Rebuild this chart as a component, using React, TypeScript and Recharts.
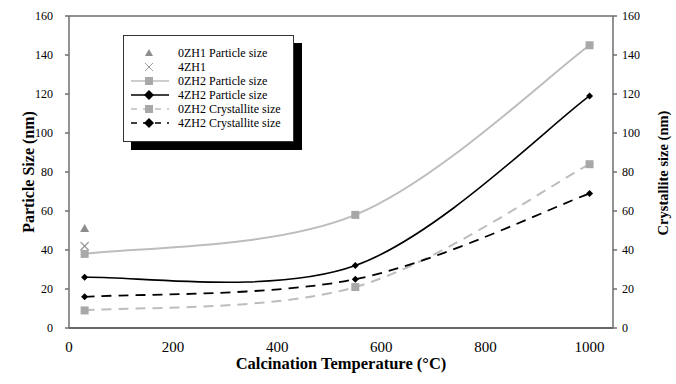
import React from 'react';
import { ComposedChart, Line, Scatter, XAxis, YAxis, ReferenceLine } from 'recharts';

// calcination temperatures (°C)
const temps = [30, 550, 1000];
const zh2Particle0 = [38, 58, 145];
const zh2Particle4 = [26, 32, 119];
const zh2Cryst0 = [9, 21, 84];
const zh2Cryst4 = [16, 25, 69];

const zh1Temps = [30];
const zh1Particle0 = [51];
const zh1Particle4 = [42];

const xTicks = [0, 200, 400, 600, 800, 1000];
const yTicks = [0, 20, 40, 60, 80, 100, 120, 140, 160];

const data = temps.map((t, i) => ({
  t,
  p0: zh2Particle0[i],
  p4: zh2Particle4[i],
  c0: zh2Cryst0[i],
  c4: zh2Cryst4[i],
}));
const zh1Data0 = zh1Temps.map((t, i) => ({ t, v: zh1Particle0[i] }));
const zh1Data4 = zh1Temps.map((t, i) => ({ t, v: zh1Particle4[i] }));

const FONT = 'Liberation Serif, DejaVu Serif, Times New Roman, serif';
const GRAY = '#a8a8a8';
const AXIS = '#6e6e6e';

// spreadsheet-style smoothed line (Catmull-Rom bezier through every point)
const smoothCurve = (context: any) => {
  let pts: number[][] = [];
  return {
    areaStart() {},
    areaEnd() {},
    lineStart() {
      pts = [];
    },
    lineEnd() {
      if (!pts.length) return;
      context.moveTo(pts[0][0], pts[0][1]);
      for (let i = 0; i < pts.length - 1; i++) {
        const p0 = pts[Math.max(i - 1, 0)];
        const p1 = pts[i];
        const p2 = pts[i + 1];
        const p3 = pts[Math.min(i + 2, pts.length - 1)];
        context.bezierCurveTo(
          p1[0] + (p2[0] - p0[0]) / 6,
          p1[1] + (p2[1] - p0[1]) / 6,
          p2[0] - (p3[0] - p1[0]) / 6,
          p2[1] - (p3[1] - p1[1]) / 6,
          p2[0],
          p2[1]
        );
      }
    },
    point(x: number, y: number) {
      pts.push([+x, +y]);
    },
  };
};

const squareDot = (props: any) => {
  const { cx, cy, index } = props;
  return <rect key={`sq-${index}`} x={cx - 4} y={cy - 4} width={8} height={8} fill={GRAY} />;
};

const diamondDot = (props: any) => {
  const { cx, cy, index } = props;
  const r = 3.5;
  return <polygon key={`dm-${index}`} points={`${cx},${cy - r} ${cx + r},${cy} ${cx},${cy + r} ${cx - r},${cy}`} fill="#000" />;
};

const triangleShape = (props: any) => {
  const { cx, cy } = props;
  return <polygon points={`${cx},${cy - 4.5} ${cx + 4.5},${cy + 3.5} ${cx - 4.5},${cy + 3.5}`} fill="#8c8c8c" />;
};

const crossShape = (props: any) => {
  const { cx, cy } = props;
  const r = 4;
  return (
    <g stroke="#8c8c8c" strokeWidth={1.2}>
      <line x1={cx - r} y1={cy - r} x2={cx + r} y2={cy + r} />
      <line x1={cx - r} y1={cy + r} x2={cx + r} y2={cy - r} />
    </g>
  );
};

const legendItems = [
  { label: '0ZH1 Particle size', marker: 'triangle' },
  { label: '4ZH1', marker: 'cross' },
  { label: '0ZH2 Particle size', marker: 'square', stroke: '#bdbdbd' },
  { label: '4ZH2 Particle size', marker: 'diamond', stroke: '#000' },
  { label: '0ZH2 Crystallite size', marker: 'square', stroke: '#bdbdbd', dash: '6 6' },
  { label: '4ZH2 Crystallite size', marker: 'diamond', stroke: '#000', dash: '6 6' },
];

const LegendMarker = ({ marker, stroke, dash }: { marker: string; stroke?: string; dash?: string }) => {
  const cx = 18;
  const cy = 7;
  return (
    <svg width={40} height={14} style={{ display: 'block' }}>
      {stroke && <line x1={0} y1={cy} x2={38} y2={cy} stroke={stroke} strokeWidth={1.5} strokeDasharray={dash} />}
      {marker === 'triangle' && <polygon points={`${cx},${cy - 4} ${cx + 4},${cy + 3} ${cx - 4},${cy + 3}`} fill="#8c8c8c" />}
      {marker === 'cross' && (
        <g stroke="#9a9a9a" strokeWidth={1}>
          <line x1={cx - 4} y1={cy - 4} x2={cx + 4} y2={cy + 4} />
          <line x1={cx - 4} y1={cy + 4} x2={cx + 4} y2={cy - 4} />
        </g>
      )}
      {marker === 'square' && <rect x={cx - 4} y={cy - 4} width={8} height={8} fill={GRAY} />}
      {marker === 'diamond' && <polygon points={`${cx},${cy - 5} ${cx + 5},${cy} ${cx},${cy + 5} ${cx - 5},${cy}`} fill="#000" />}
    </svg>
  );
};

export default function App() {
  return (
    <div style={{ position: 'absolute', left: 0, top: 0, width: 676, height: 384, background: '#fff', fontFamily: FONT }}>
      <ComposedChart width={676} height={384} data={data} margin={{ top: 16, right: 0, bottom: 0, left: 0 }} style={{ fontFamily: FONT }}>
        <XAxis
          dataKey="t"
          type="number"
          domain={[0, 1045]}
          ticks={xTicks}
          allowDataOverflow
          stroke="#333"
          strokeWidth={1.5}
          tickLine={false}
          tickMargin={7}
          height={56}
          tick={{ fill: '#000', fontSize: 15, fontFamily: FONT }}
          label={{
            content: () => (
              <text x={341} y={369} textAnchor="middle" fontSize={16.5} fontWeight="bold" fontFamily={FONT} fill="#000">
                Calcination Temperature (°C)
              </text>
            ),
          }}
        />
        <YAxis
          yAxisId="left"
          domain={[0, 160]}
          ticks={yTicks}
          width={69}
          stroke={AXIS}
          strokeWidth={1.5}
          tickSize={4}
          tickMargin={12}
          tick={{ fill: '#000', fontSize: 12, fontFamily: FONT }}
          label={{
            content: () => (
              <text x={28} y={172} transform="rotate(-90 28 172)" textAnchor="middle" dominantBaseline="central" fontSize={16} fontWeight="bold" fontFamily={FONT} fill="#000">
                Particle Size (nm)
              </text>
            ),
          }}
        />
        <YAxis
          yAxisId="right"
          orientation="right"
          domain={[0, 160]}
          ticks={yTicks}
          width={63}
          stroke={AXIS}
          strokeWidth={1.5}
          tickSize={4}
          tickMargin={5}
          tick={{ fill: '#000', fontSize: 12, fontFamily: FONT }}
          label={{
            content: () => (
              <text x={663} y={173} transform="rotate(-90 663 173)" textAnchor="middle" dominantBaseline="central" fontSize={14.5} fontWeight="bold" fontFamily={FONT} fill="#000">
                Crystallite size (nm)
              </text>
            ),
          }}
        />
        <ReferenceLine yAxisId="left" y={160} stroke={AXIS} strokeWidth={1.5} />

        <Line yAxisId="left" type={smoothCurve as any} dataKey="p0" stroke="#bdbdbd" strokeWidth={2} dot={squareDot} activeDot={false} isAnimationActive={false} />
        <Line yAxisId="left" type={smoothCurve as any} dataKey="p4" stroke="#000" strokeWidth={1.6} dot={diamondDot} activeDot={false} isAnimationActive={false} />
        <Line yAxisId="right" type={smoothCurve as any} dataKey="c0" stroke="#bdbdbd" strokeWidth={2} strokeDasharray="10 7" dot={squareDot} activeDot={false} isAnimationActive={false} />
        <Line yAxisId="right" type={smoothCurve as any} dataKey="c4" stroke="#000" strokeWidth={1.8} strokeDasharray="10 7" dot={diamondDot} activeDot={false} isAnimationActive={false} />

        <Scatter yAxisId="left" data={zh1Data0} dataKey="v" shape={triangleShape} isAnimationActive={false} />
        <Scatter yAxisId="left" data={zh1Data4} dataKey="v" shape={crossShape} isAnimationActive={false} />
      </ComposedChart>

      <div
        style={{
          position: 'absolute',
          left: 123,
          top: 35,
          width: 171,
          height: 107,
          border: '1px solid #333',
          background: '#fff',
          boxShadow: '8px 8px 0 #000',
          boxSizing: 'border-box',
          paddingTop: 10,
        }}
      >
        {legendItems.map((it) => (
          <div key={it.label} style={{ display: 'flex', alignItems: 'center', height: 14 }}>
            <div style={{ marginLeft: 7, width: 47 }}>
              <LegendMarker marker={it.marker} stroke={it.stroke} dash={it.dash} />
            </div>
            <span style={{ fontSize: 12, color: '#000', whiteSpace: 'nowrap' }}>{it.label}</span>
          </div>
        ))}
      </div>
    </div>
  );
}
